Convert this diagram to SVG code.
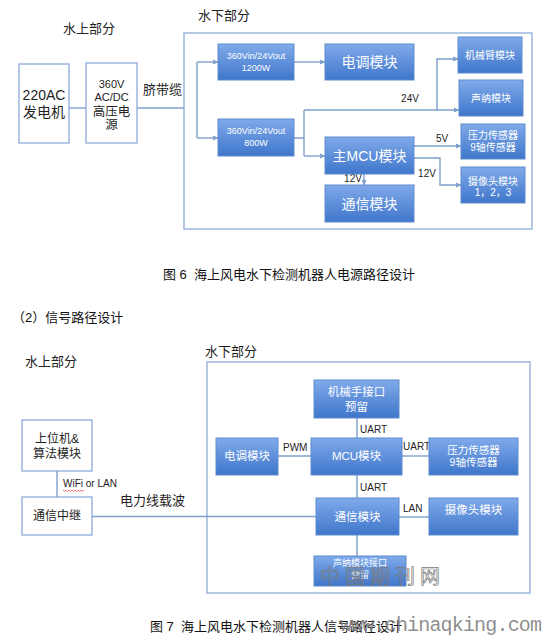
<svg xmlns="http://www.w3.org/2000/svg" width="546" height="635" viewBox="0 0 546 635">
<defs>
<linearGradient id="bg" x1="0" y1="0" x2="0" y2="1">
<stop offset="0" stop-color="#80aaea"/>
<stop offset="1" stop-color="#3f76cb"/>
</linearGradient>
<marker id="ar" viewBox="0 0 8 8" refX="7" refY="4" markerWidth="6" markerHeight="6" orient="auto" markerUnits="userSpaceOnUse">
<path d="M0,0.5 L8,4 L0,7.5 Z" fill="#7f9fcc"/>
</marker>
<style>
text{font-family:"Liberation Sans","Noto Sans CJK SC",sans-serif;}
.bx{fill:url(#bg);stroke:#5f8ccd;stroke-width:1;}
.wb{fill:#fff;stroke:#8eaadb;stroke-width:1.3;}
.ob{fill:none;stroke:#9db6dd;stroke-width:1.5;}
.ln{fill:none;stroke:#7f9fcc;stroke-width:1.4;}
.la{fill:none;stroke:#7f9fcc;stroke-width:1.4;marker-end:url(#ar);}
.wt{fill:#fff;text-anchor:middle;}
.bk{fill:#222;}
.bc{fill:#222;text-anchor:middle;}
.cap{fill:#111;font-size:13px;}
</style>
</defs>

<!-- ============ Figure 6 ============ -->
<text class="bk" x="63" y="33" font-size="13">水上部分</text>
<text class="bk" x="198" y="20" font-size="13">水下部分</text>
<rect id="under1" class="ob" x="184" y="33" width="348" height="196"/>

<g id="connectors1">
<line class="ln" x1="69" y1="108" x2="86" y2="108"/>
<line class="ln" x1="137" y1="108" x2="184" y2="108"/>
<path class="ln" d="M197,62 V138"/>
<path class="la" d="M197,62 H218"/>
<path class="la" d="M197,138 H218"/>
<path class="la" d="M294,62 H325"/>
<path class="ln" d="M294,138 H304 V156"/>
<path class="la" d="M304,156 H325"/>
<path class="ln" d="M304,138 V110"/>
<path class="la" d="M304,110 H459"/>
<path class="la" d="M437,110 V59 H458"/>
<path class="la" d="M364,174 V185"/>
<path class="la" d="M414,146 H461"/>
<path class="la" d="M414,158 H440 V185 H461"/>
<text class="bc" x="410" y="102" font-size="10">24V</text>
<text class="bc" x="442" y="142" font-size="10">5V</text>
<text class="bc" x="427" y="177" font-size="10">12V</text>
<text class="bc" x="353" y="182" font-size="10">12V</text>
</g>

<g id="gen">
<rect class="wb" x="19" y="64" width="50" height="79"/>
<text class="bc" x="44" y="100" font-size="14">220AC</text>
<text class="bc" x="44" y="117" font-size="14">发电机</text>
</g>
<g id="hvps">
<rect class="wb" x="86" y="63" width="51" height="80"/>
<text class="bc" x="111.5" y="88" font-size="11">360V</text>
<text class="bc" x="111.5" y="101" font-size="11">AC/DC</text>
<text class="bc" x="111.5" y="116" font-size="12.5">高压电</text>
<text class="bc" x="111.5" y="129" font-size="12.5">源</text>
</g>
<text class="bk" x="143" y="94" font-size="13">脐带缆</text>

<g id="conv1">
<rect class="bx" x="218" y="44" width="76" height="36"/>
<text class="wt" x="256" y="59" font-size="9">360Vin/24Vout</text>
<text class="wt" x="256" y="71" font-size="9">1200W</text>
</g>
<g id="conv2">
<rect class="bx" x="218" y="119" width="76" height="37"/>
<text class="wt" x="256" y="134" font-size="9">360Vin/24Vout</text>
<text class="wt" x="256" y="146" font-size="9">800W</text>
</g>
<g id="esc1">
<rect class="bx" x="325" y="44" width="89" height="36"/>
<text class="wt" x="369.5" y="67" font-size="14">电调模块</text>
</g>
<g id="mcu1">
<rect class="bx" x="325" y="137" width="89" height="37"/>
<text class="wt" x="369.5" y="161" font-size="14">主MCU模块</text>
</g>
<g id="comm1">
<rect class="bx" x="325" y="185" width="89" height="37"/>
<text class="wt" x="369.5" y="209" font-size="14">通信模块</text>
</g>
<g id="arm1">
<rect class="bx" x="458" y="37" width="64" height="36"/>
<text class="wt" x="490" y="59" font-size="10">机械臂模块</text>
</g>
<g id="sonar1">
<rect class="bx" x="459" y="80" width="64" height="36"/>
<text class="wt" x="491" y="102" font-size="10">声纳模块</text>
</g>
<g id="sensor1">
<rect class="bx" x="461" y="124" width="64" height="35"/>
<text class="wt" x="493" y="139" font-size="10">压力传感器</text>
<text class="wt" x="493" y="151" font-size="10">9轴传感器</text>
</g>
<g id="cam1">
<rect class="bx" x="461" y="167" width="64" height="36"/>
<text class="wt" x="493" y="185" font-size="10">摄像头模块</text>
<text class="wt" x="493" y="196" font-size="10">1，2，3</text>
</g>

<text class="cap" x="163" y="279" xml:space="preserve">图 6  海上风电水下检测机器人电源路径设计</text>
<text class="cap" x="12" y="322">（2）信号路径设计</text>

<!-- ============ Figure 7 ============ -->
<text class="bk" x="25" y="366" font-size="13">水上部分</text>
<text class="bk" x="205" y="356" font-size="13">水下部分</text>
<rect id="under2" class="ob" x="207" y="362" width="323" height="231"/>

<g id="connectors2">
<line class="ln" x1="57" y1="471" x2="57" y2="497"/>
<line class="ln" x1="92" y1="516.5" x2="316" y2="516.5"/>
<line class="ln" x1="357" y1="418" x2="357" y2="438"/>
<line class="ln" x1="357" y1="475" x2="357" y2="498"/>
<line class="ln" x1="357" y1="535" x2="357" y2="562"/>
<line class="ln" x1="278" y1="456" x2="311" y2="456"/>
<line class="ln" x1="402" y1="456" x2="429" y2="456"/>
<line class="ln" x1="399" y1="517" x2="429" y2="517"/>
<text class="bk" x="63" y="487" font-size="10">WiFi or LAN</text>
<path d="M63,490 l1.5,1.5 l1.5,-1.5 l1.5,1.5 l1.5,-1.5 l1.5,1.5 l1.5,-1.5 l1.5,1.5 l1.5,-1.5 l1.5,1.5 l1.5,-1.5 l1.5,1.5 l1.5,-1.5 l1.5,1.5 l1.5,-1.5" fill="none" stroke="#e03030" stroke-width="0.7"/>
<text class="bk" x="120" y="505" font-size="13">电力线载波</text>
<text class="bk" x="360" y="433" font-size="10">UART</text>
<text class="bk" x="360" y="491" font-size="10">UART</text>
<text class="bk" x="283" y="451" font-size="10">PWM</text>
<text class="bk" x="403" y="450" font-size="10">UART</text>
<text class="bk" x="403" y="512" font-size="10">LAN</text>
</g>

<g id="host">
<rect class="wb" x="22" y="420" width="70" height="51"/>
<text class="bc" x="57" y="443" font-size="12">上位机&amp;</text>
<text class="bc" x="57" y="458" font-size="12">算法模块</text>
</g>
<g id="relay">
<rect class="wb" x="22" y="497" width="70" height="38"/>
<text class="bc" x="57" y="520" font-size="12">通信中继</text>
</g>
<g id="armif">
<rect class="bx" x="314" y="380" width="85" height="38"/>
<text class="wt" x="356.5" y="396" font-size="11.5">机械手接口</text>
<text class="wt" x="356.5" y="411" font-size="11.5">预留</text>
</g>
<g id="esc2">
<rect class="bx" x="216" y="438" width="62" height="37"/>
<text class="wt" x="247" y="460" font-size="11.5">电调模块</text>
</g>
<g id="mcu2">
<rect class="bx" x="311" y="438" width="91" height="37"/>
<text class="wt" x="356.5" y="460" font-size="11.5">MCU模块</text>
</g>
<g id="sensor2">
<rect class="bx" x="429" y="438" width="89" height="37"/>
<text class="wt" x="473.5" y="454" font-size="10.5">压力传感器</text>
<text class="wt" x="473.5" y="466" font-size="10.5">9轴传感器</text>
</g>
<g id="comm2">
<rect class="bx" x="316" y="498" width="83" height="37"/>
<text class="wt" x="357.5" y="521" font-size="11.5">通信模块</text>
</g>
<g id="cam2">
<rect class="bx" x="429" y="498" width="89" height="37"/>
<text class="wt" x="473.5" y="514" font-size="11.5">摄像头模块</text>
</g>
<g id="sonarif">
<rect class="bx" x="314" y="556" width="92" height="30"/>
<text class="wt" x="360" y="566" font-size="9">声纳模块接口</text>
<text class="wt" x="360" y="578" font-size="9">预留</text>
</g>

<text class="cap" x="150" y="631" xml:space="preserve">图 7  海上风电水下检测机器人信号路径设计</text>

<!-- watermark -->
<text x="320" y="584" font-size="20" letter-spacing="5" fill="none" stroke="#7a7a7a" stroke-width="0.7" font-family="'Noto Sans CJK SC',sans-serif">中国期刊网</text>
<text x="340" y="631" font-size="20" textLength="202" lengthAdjust="spacing" fill="#7f7f7f" fill-opacity="0.9" style="font-family:'Liberation Mono',monospace">www.chinaqking.com</text>
</svg>
